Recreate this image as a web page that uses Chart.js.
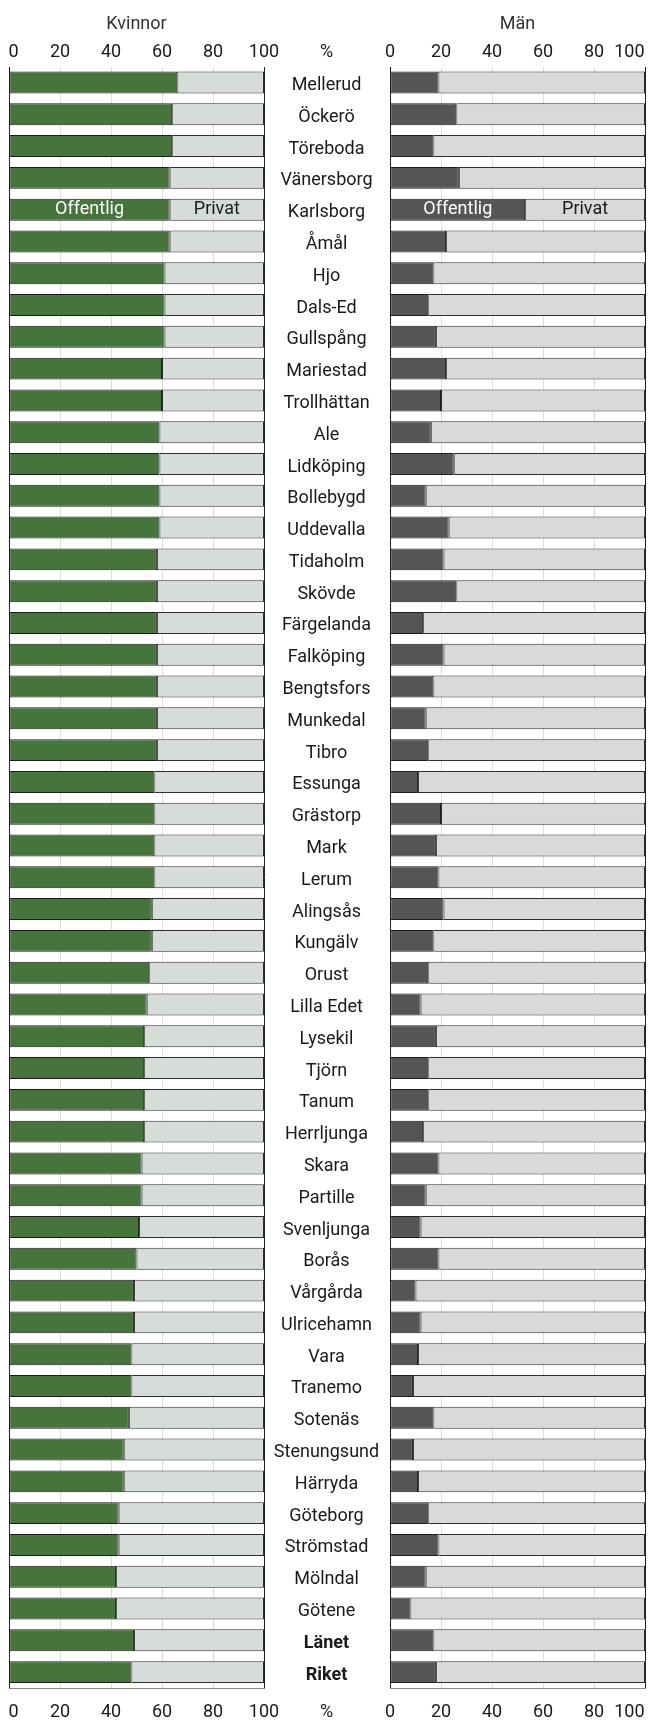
<!DOCTYPE html>
<html>
<head>
<meta charset="utf-8">
<script src="https://cdn.jsdelivr.net/npm/chart.js@4"></script>
<style>
  html, body { margin: 0; padding: 0; background: #fff; overflow: hidden; }
  #wrap { position: relative; width: 649px; height: 1721px; }
  canvas { position: absolute; top: 0; }
</style>
</head>
<body>
<div id="wrap">
  <canvas id="kvinnor" width="389" height="1721" style="left:0"></canvas>
  <canvas id="man" width="269" height="1721" style="left:380px"></canvas>
</div>
<script>
const kommuner = ['Mellerud','Öckerö','Töreboda','Vänersborg','Karlsborg','Åmål','Hjo','Dals-Ed','Gullspång','Mariestad',
  'Trollhättan','Ale','Lidköping','Bollebygd','Uddevalla','Tidaholm','Skövde','Färgelanda','Falköping','Bengtsfors',
  'Munkedal','Tibro','Essunga','Grästorp','Mark','Lerum','Alingsås','Kungälv','Orust','Lilla Edet',
  'Lysekil','Tjörn','Tanum','Herrljunga','Skara','Partille','Svenljunga','Borås','Vårgårda','Ulricehamn',
  'Vara','Tranemo','Sotenäs','Stenungsund','Härryda','Göteborg','Strömstad','Mölndal','Götene','Länet','Riket'];

// andel i procent, offentlig / privat sektor
const kvinnorOffentlig = [66,64,64,63,63,63,61,61,61,60,60,59,59,59,59,58,58,58,58,58,58,58,57,57,57,57,
  56,56,55,54,53,53,53,53,52,52,51,50,49,49,48,48,47,45,45,43,43,42,42,49,48];
const kvinnorPrivat = [34,36,36,37,37,37,39,39,39,40,40,41,41,41,41,42,42,42,42,42,42,42,43,43,43,43,
  44,44,45,46,47,47,47,47,48,48,49,50,51,51,52,52,53,55,55,57,57,58,58,51,52];
const manOffentlig = [19,26,17,27,53,22,17,15,18,22,20,16,25,14,23,21,26,13,21,17,14,15,11,20,18,19,
  21,17,15,12,18,15,15,13,19,14,12,19,10,12,11,9,17,9,11,15,19,14,8,17,18];
const manPrivat = [81,74,83,73,47,78,83,85,82,78,80,84,75,86,77,79,74,87,79,83,86,85,89,80,82,81,
  79,83,85,88,82,85,85,87,81,86,88,81,90,88,89,91,83,91,89,85,81,86,92,83,82];

const tickValues = [0, 20, 40, 60, 80, 100];
const boldRows = ['Länet', 'Riket'];

const FONT = 'Roboto';
const TXT = '#1a1a1a';
const NB = '\u00a0';

// widest middle label, used to centre the labels between the panels
const mctx = document.createElement('canvas').getContext('2d');
let widest = 0;
kommuner.forEach(k => {
  mctx.font = (boldRows.includes(k) ? 'bold ' : '') + '18px ' + FONT;
  widest = Math.max(widest, mctx.measureText(k).width);
});
const midAxisWidth = 125;

const gridColor = c => (c.tick && (c.tick.value === 0 || c.tick.value === 100)) ? '#222' : '#dedede';

function noPad(s) {
  s.paddingLeft = 0; s.paddingRight = 0; s.paddingTop = 0; s.paddingBottom = 0;
}

const barLabels = {
  id: 'barLabels',
  afterDatasetsDraw(chart) {
    const ctx = chart.ctx;
    const i = kommuner.indexOf('Karlsborg');
    chart.data.datasets.forEach((ds, d) => {
      const bar = chart.getDatasetMeta(d).data[i];
      ctx.save();
      ctx.font = '18px ' + FONT;
      ctx.fillStyle = d === 0 ? '#ffffff' : TXT;
      ctx.textAlign = 'center';
      ctx.textBaseline = 'middle';
      ctx.fillText(ds.label, (bar.x + bar.base) / 2, bar.y);
      ctx.restore();
    });
  }
};

const percentLabel = {
  id: 'percentLabel',
  afterDraw(chart) {
    const ctx = chart.ctx;
    const yItem = chart.scales.y.getLabelItems()[0];
    const cx = yItem.options.translation[0];
    ['x', 'x2'].forEach(id => {
      const it = chart.scales[id].getLabelItems()[0];
      ctx.save();
      ctx.font = '18px ' + FONT;
      ctx.fillStyle = TXT;
      ctx.textAlign = 'center';
      ctx.textBaseline = it.options.textBaseline;
      ctx.fillText('%', cx, it.options.translation[1] + (it.textOffset || 0));
      ctx.restore();
    });
  }
};

// side: 'left' keeps the 0 inside the panel, 'right' keeps the 100 inside
function tickLabel(side) {
  return v => {
    if (!tickValues.includes(v)) return '';
    if (side === 'left' && v === 0) return NB + NB + v;
    if (side === 'right' && v === 100) return v + NB.repeat(7);
    return String(v);
  };
}

function xScales(side) {
  const ticks = {
    stepSize: 20, color: TXT, font: { family: FONT, size: 18, lineHeight: 1 },
    maxRotation: 0, autoSkip: false, callback: tickLabel(side)
  };
  return {
    x: {
      stacked: true, position: 'top', min: 0, max: 100,
      ticks: Object.assign({}, ticks, { padding: 5 }),
      grid: { color: gridColor, drawTicks: false },
      border: { display: false },
      afterFit: s => { noPad(s); s.height = 24; }
    },
    x2: {
      type: 'linear', axis: 'x', position: 'bottom', min: 0, max: 100,
      ticks: Object.assign({}, ticks, { padding: 15 }),
      grid: { display: false, drawTicks: false },
      border: { display: true, color: '#8a8a8a' },
      afterFit: s => { noPad(s); s.height = 33; }
    }
  };
}

function makeChart(id, title, offentlig, privat, colOff, colPriv, side, padding, midLabels) {
  const scales = xScales(side);
  scales.y = {
    stacked: true,
    display: midLabels,
    position: 'right',
    grid: { display: false, drawTicks: false },
    border: { display: false },
    ticks: {
      crossAlign: 'center',
      padding: midAxisWidth / 2 - widest / 2,
      labelOffset: 3,
      color: TXT,
      font: ctx => ({ family: FONT, size: 18, weight: boldRows.includes(kommuner[ctx.index]) ? 'bold' : 'normal' })
    },
    afterFit: s => { noPad(s); s.width = midLabels ? midAxisWidth : 0; }
  };
  return new Chart(document.getElementById(id), {
    type: 'bar',
    data: {
      labels: kommuner,
      datasets: [
        { label: 'Offentlig', data: offentlig, backgroundColor: colOff, borderColor: '#1c1c1c',
          borderWidth: 1, borderSkipped: false, barPercentage: 0.69, categoryPercentage: 1 },
        { label: 'Privat', data: privat, backgroundColor: colPriv, borderColor: '#2e2e2e',
          borderWidth: 1, borderSkipped: false, barPercentage: 0.69, categoryPercentage: 1 }
      ]
    },
    options: {
      indexAxis: 'y',
      responsive: false,
      animation: false,
      devicePixelRatio: 1,
      layout: { padding: padding },
      plugins: {
        legend: { display: false },
        tooltip: { enabled: false },
        title: {
          display: true, text: title, fullSize: false, color: '#333',
          font: { family: FONT, size: 18, weight: 'normal', lineHeight: 1.2 },
          padding: { top: 14, bottom: 7 }
        }
      },
      scales: scales
    },
    plugins: midLabels ? [barLabels, percentLabel] : [barLabels]
  });
}

makeChart('kvinnor', 'Kvinnor', kvinnorOffentlig, kvinnorPrivat, '#46753c', '#d6dcd8', 'left',
  { left: 9, right: 0, top: 0, bottom: 0 }, true);
makeChart('man', 'Män', manOffentlig, manPrivat, '#555555', '#d9d9d9', 'right',
  { left: 10, right: 4, top: 0, bottom: 0 }, false);
</script>
</body>
</html>
